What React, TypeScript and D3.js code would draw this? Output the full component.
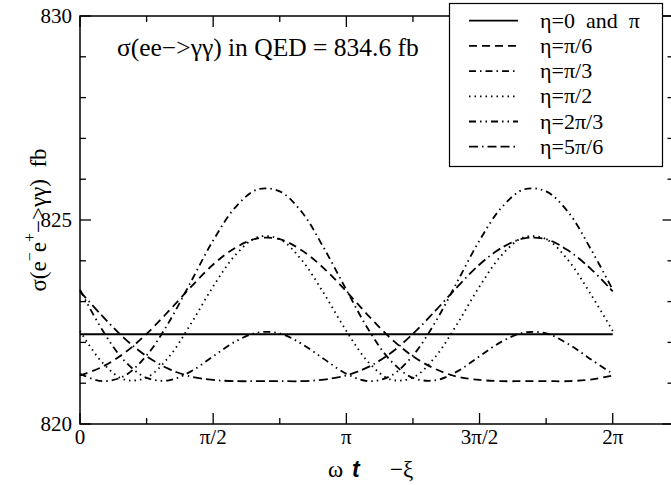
import React from 'react';
import * as d3 from 'd3';

// phase grid, in units of pi/12 (0 .. 2pi)
const phaseTwelfths = [0, 1, 2, 3, 4, 5, 6, 7, 8, 9, 10, 11, 12, 13, 14, 15, 16, 17, 18, 19, 20, 21, 22, 23, 24];

// sigma(e+e- -> gamma gamma) in fb
const sigmaEta0 = [822.2, 822.2, 822.2, 822.2, 822.2, 822.2, 822.2, 822.2, 822.2, 822.2, 822.2, 822.2, 822.2,
  822.2, 822.2, 822.2, 822.2, 822.2, 822.2, 822.2, 822.2, 822.2, 822.2, 822.2, 822.2];
const sigmaEtaPi6 = [821.19, 821.40, 821.74, 822.21, 822.77, 823.36, 823.91, 824.32, 824.55, 824.53, 824.25, 823.81, 823.25,
  822.65, 822.10, 821.66, 821.35, 821.16, 821.08, 821.05, 821.05, 821.05, 821.05, 821.09, 821.19];
const sigmaEtaPi3 = [821.23, 821.05, 821.18, 821.68, 822.49, 823.49, 824.50, 825.31, 825.75, 825.70, 825.19, 824.30, 823.29,
  822.31, 821.55, 821.13, 821.07, 821.29, 821.66, 822.02, 822.24, 822.22, 821.96, 821.59, 821.23];
const sigmaEtaPi2 = [822.28, 821.51, 821.09, 821.14, 821.64, 822.46, 823.37, 824.14, 824.58, 824.53, 824.01, 823.19, 822.28,
  821.51, 821.09, 821.14, 821.64, 822.46, 823.37, 824.14, 824.58, 824.53, 824.01, 823.19, 822.28];
const sigmaEta2Pi3 = [823.29, 822.31, 821.55, 821.13, 821.07, 821.29, 821.66, 822.02, 822.24, 822.22, 821.96, 821.59, 821.23,
  821.05, 821.18, 821.68, 822.49, 823.49, 824.50, 825.31, 825.75, 825.70, 825.19, 824.30, 823.29];
const sigmaEta5Pi6 = [823.25, 822.65, 822.10, 821.66, 821.35, 821.16, 821.08, 821.05, 821.05, 821.05, 821.05, 821.09, 821.19,
  821.40, 821.74, 822.21, 822.77, 823.36, 823.91, 824.32, 824.55, 824.53, 824.25, 823.81, 823.25];

const etaLabels = ['η=0\u00a0 and\u00a0 π', 'η=π/6', 'η=π/3', 'η=π/2', 'η=2π/3', 'η=5π/6'];
const seriesValues = [sigmaEta0, sigmaEtaPi6, sigmaEtaPi3, sigmaEtaPi2, sigmaEta2Pi3, sigmaEta5Pi6];
const dashes = [undefined, '8,5', '7,4,1.5,4', '1.5,4', '7,4,1.5,4,1.5,4', '9,4,1.5,4,9,4'];

const xTickValues = [0, Math.PI / 2, Math.PI, 3 * Math.PI / 2, 2 * Math.PI];
const xTickLabels = ['0', 'π/2', 'π', '3π/2', '2π'];
const xMinorTicks = [Math.PI / 4, 3 * Math.PI / 4, 5 * Math.PI / 4, 7 * Math.PI / 4];
const yTickValues = [820, 825, 830];
const yMinorTicks = [821, 822, 823, 824, 826, 827, 828, 829];

const W = 671;
const H = 485;
const serif = 'Liberation Serif';

const left = 80, right = 673.5, top = 16, bottom = 424;
const x = d3.scaleLinear().domain([0, 7]).range([left, right]);
const y = d3.scaleLinear().domain([820, 830]).range([bottom, top]);

const line = d3.line<number>()
  .x((d, i) => x(phaseTwelfths[i] * Math.PI / 12))
  .y(d => y(d))
  .curve(d3.curveCatmullRom);

export default function App() {
  const tick = { stroke: '#000', strokeWidth: 1.3 };
  return (
    <svg width={W} height={H} style={{ position: 'absolute', left: 0, top: 0, background: '#fff' }}>
      {/* inward ticks on all four sides */}
      {xTickValues.map(v => (
        <g key={'xM' + v}>
          <line x1={x(v)} x2={x(v)} y1={bottom} y2={bottom - 11} {...tick} />
          <line x1={x(v)} x2={x(v)} y1={top} y2={top + 11} {...tick} />
        </g>
      ))}
      {xMinorTicks.map(v => (
        <g key={'xm' + v}>
          <line x1={x(v)} x2={x(v)} y1={bottom} y2={bottom - 6} {...tick} />
          <line x1={x(v)} x2={x(v)} y1={top} y2={top + 6} {...tick} />
        </g>
      ))}
      {yTickValues.map(v => (
        <g key={'yM' + v}>
          <line x1={left} x2={left + 11} y1={y(v)} y2={y(v)} {...tick} />
          <line x1={right} x2={right - 11} y1={y(v)} y2={y(v)} {...tick} />
        </g>
      ))}
      {yMinorTicks.map(v => (
        <g key={'ym' + v}>
          <line x1={left} x2={left + 6} y1={y(v)} y2={y(v)} {...tick} />
          <line x1={right} x2={right - 6} y1={y(v)} y2={y(v)} {...tick} />
        </g>
      ))}
      <rect x={left} y={top} width={right - left} height={bottom - top} fill="none" stroke="#000" strokeWidth={1.5} />

      {xTickValues.map((v, i) => (
        <text key={'xl' + i} x={x(v)} y={444} textAnchor="middle" style={{ fontFamily: serif, fontSize: '21px' }}>
          {xTickLabels[i]}
        </text>
      ))}
      {yTickValues.map(v => (
        <text key={'yl' + v} x={72} y={y(v) + 7} textAnchor="end" style={{ fontFamily: serif, fontSize: '21px' }}>
          {v}
        </text>
      ))}

      {seriesValues.map((vals, i) => (
        <path key={'s' + i} d={line(vals) || ''} fill="none" stroke="#000" strokeWidth={1.8}
          strokeDasharray={dashes[i]} />
      ))}

      <text x={117} y={56} style={{ fontFamily: serif, fontSize: '25.5px' }}>σ(ee−&gt;γγ) in QED = 834.6 fb</text>

      <g>
        <rect x={449.5} y={3.5} width={213} height={163} fill="#fff" stroke="#000" strokeWidth={1.2} />
        {etaLabels.map((lab, i) => (
          <g key={lab} transform={`translate(0,${20.7 + i * 25.2})`}>
            <line x1={469} x2={518} y1={0} y2={0} stroke="#000" strokeWidth={1.8} strokeDasharray={dashes[i]} />
            <text x={540} y={7} style={{ fontFamily: serif, fontSize: '22px' }}>{lab}</text>
          </g>
        ))}
      </g>

      <text x={328} y={477} style={{ fontFamily: serif, fontSize: '23px' }}>
        <tspan>ω</tspan>
        <tspan x={352} style={{ fontFamily: 'Liberation Sans', fontWeight: 'bold', fontStyle: 'italic' }}>t</tspan>
        <tspan x={390}>−ξ</tspan>
      </text>

      <text transform="translate(46,220) rotate(-90)" textAnchor="middle" style={{ fontFamily: serif, fontSize: '23px' }}>
        <tspan>σ(e</tspan>
        <tspan dy={-11} style={{ fontSize: '16px' }}>−</tspan>
        <tspan dy={11}>e</tspan>
        <tspan dy={-11} style={{ fontSize: '16px' }}>+</tspan>
        <tspan dy={11}>{'−>γγ)\u00a0 fb'}</tspan>
      </text>
    </svg>
  );
}
